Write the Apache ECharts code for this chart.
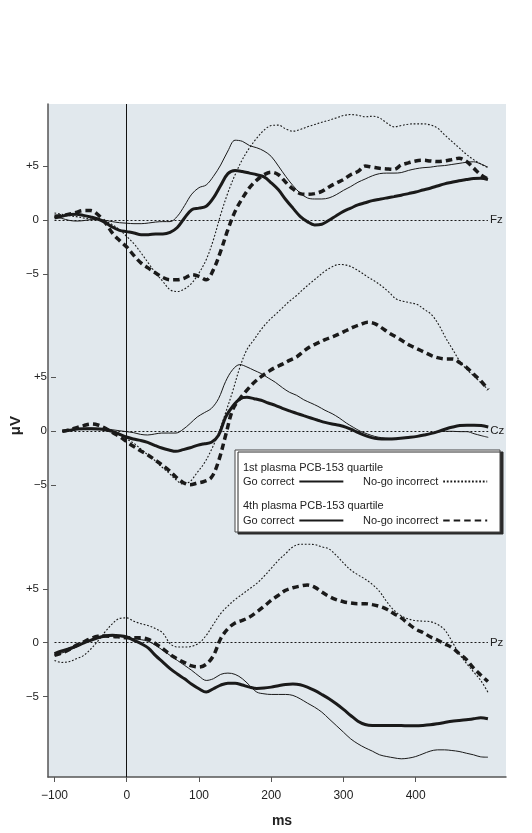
<!DOCTYPE html>
<html><head><meta charset="utf-8">
<script src="https://cdn.jsdelivr.net/npm/echarts@6/dist/echarts.min.js"></script>
<style>html,body{margin:0;padding:0;background:#fff}#c{width:532px;height:833px}</style>
</head><body><div id="c"></div>
<script>
// ---------- data (ms, µV) ----------
const times = [-100,-90,-80,-70,-60,-50,-40,-30,-20,-10,0,10,20,30,40,50,60,70,80,90,100,110,120,130,140,150,160,170,180,190,200,210,220,230,240,250,260,270,280,290,300,310,320,330,340,350,360,370,380,390,400,410,420,430,440,450,460,470,480,490,500];
const xTicks = [-100,0,100,200,300,400];
const yTicks = [-5,0,5];
const sites = ['Fz','Cz','Pz'];
const groupNames = ['Q1 Go correct','Q1 No-go incorrect','Q4 Go correct','Q4 No-go incorrect'];

const fzQ1Go = [0.28,0.15,-0.03,-0.1,-0.06,0.03,0.03,-0.03,-0.15,-0.25, -0.3,-0.34,-0.34,-0.28,-0.19,-0.15,-0.15,0.34,1.33,2.4, 3.0,3.25,4.05,5.1,6.4,7.4,7.3,6.9,6.7,6.4, 5.9,5.0,4.05,3.2,2.5,2.05,1.95,1.95,2.05,2.35, 2.75,3.1,3.5,3.8,4.1,4.3,4.35,4.35,4.4,4.6, 4.75,4.85,4.9,5.0,5.05,5.15,5.25,5.35,5.4,5.2, 4.9];
const fzQ1NoGo = [0.65,0.53,0.4,0.31,0.19,0.09,0.03,-0.12,-0.43,-0.9, -1.52,-2.2,-3.07,-4.0,-4.92,-5.7,-6.47,-6.63,-6.4,-5.85, -4.92,-3.68,-1.83,0.5,2.52,4.2,5.6,6.7,7.6,8.33, 8.76,8.8,8.45,8.24,8.39,8.64,8.85,9.07,9.26,9.47, 9.69,9.78,9.72,9.57,9.63,9.47,9.0,8.64,8.76,8.89, 8.92,8.92,8.82,8.54,7.9,7.3,6.7,6.1,5.6,5.2, 4.85];
const fzQ4Go = [0.19,0.34,0.5,0.53,0.43,0.28,0.09,-0.22,-0.65,-0.96, -1.08,-1.2,-1.36,-1.36,-1.3,-1.3,-1.15,-0.7,0.19,0.96, 1.1,1.27,2.05,3.2,4.3,4.6,4.5,4.35,4.2,4.0, 3.45,2.8,1.9,1.1,0.34,-0.15,-0.46,-0.4,-0.03,0.4, 0.8,1.1,1.4,1.6,1.8,1.92,2.05,2.17,2.3,2.45, 2.6,2.78,2.95,3.15,3.35,3.5,3.65,3.75,3.85,3.88, 3.75];
const fzQ4NoGo = [0.34,0.4,0.53,0.71,0.87,0.87,0.5,-0.22,-1.2,-1.9, -2.5,-3.3,-4.0,-4.46,-4.92,-5.33,-5.54,-5.54,-5.39,-5.08, -5.23,-5.54,-4.6,-2.9,-0.9,0.8,2.0,3.0,3.7,4.2, 4.43,4.2,3.5,2.88,2.45,2.38,2.45,2.66,3.06,3.43, 3.75,4.2,4.5,5.0,4.9,4.8,4.74,4.7,5.1,5.3, 5.48,5.54,5.48,5.42,5.48,5.6,5.73,5.45,4.83,4.2, 3.8];

const czQ1Go = [-0.03,0.03,0.12,0.22,0.28,0.25,0.22,0.12,0.03,-0.06, -0.15,-0.31,-0.37,-0.28,-0.19,-0.19,-0.19,0.15,0.7,1.3, 1.7,2.1,3.0,4.6,5.7,6.16,5.94,5.63,5.33,4.92, 4.52,4.02,3.59,3.31,2.9,2.6,2.29,1.92,1.61,1.21, 0.74,0.34,-0.03,-0.28,-0.5,-0.62,-0.68,-0.68,-0.62,-0.56, -0.5,-0.34,-0.19,-0.09,-0.03,-0.03,-0.06,-0.06,-0.25,-0.43, -0.59];
const czQ1NoGo = [-0.03,0.06,0.15,0.19,0.22,0.22,0.15,-0.03,-0.37,-0.74, -1.11,-1.64,-2.2,-2.72,-3.34,-3.9,-4.52,-4.92,-4.67,-3.84, -2.97,-1.73,-0.2,1.7,3.7,5.9,7.55,8.48,9.41,10.19, 10.8,11.42,12.04,12.57,13.19,13.75,14.3,14.83,15.23,15.45, 15.39,15.14,14.74,14.3,13.9,13.44,12.88,12.26,12.04,11.89, 11.73,11.27,10.8,9.88,8.64,7.55,6.47,5.7,5.08,4.46, 3.84];
const czQ4Go = [-0.03,0.06,0.19,0.22,0.22,0.19,0.12,-0.03,-0.28,-0.56, -0.74,-0.87,-1.05,-1.33,-1.58,-1.76,-1.89,-1.73,-1.55,-1.33, -1.18,-1.05,-0.4,1.3,2.3,2.97,3.13,3.0,2.85,2.6, 2.38,2.1,1.86,1.64,1.42,1.21,1.0,0.8,0.65,0.53, 0.34,0.06,-0.25,-0.5,-0.68,-0.74,-0.74,-0.71,-0.65,-0.59, -0.5,-0.37,-0.22,-0.03,0.19,0.37,0.5,0.53,0.53,0.5, 0.37];
const czQ4NoGo = [-0.03,0.12,0.31,0.5,0.65,0.56,0.28,-0.12,-0.5,-0.96, -1.42,-1.83,-2.2,-2.66,-3.13,-3.65,-4.27,-4.77,-4.98,-4.83, -4.67,-4.3,-2.8,-0.4,2.0,3.0,3.8,4.5,5.05,5.5, 5.9,6.2,6.55,6.87,7.4,7.86,8.17,8.48,8.73,9.0, 9.32,9.63,9.88,10.09,9.97,9.57,9.1,8.73,8.33,7.93, 7.62,7.31,7.0,6.78,6.69,6.69,6.32,5.85,5.23,4.61, 3.84];

const pzQ1Go = [-1.18,-0.96,-0.71,-0.4,-0.03,0.22,0.43,0.56,0.62,0.59, 0.46,0.37,0.28,0.12,-0.25,-0.71,-1.18,-1.64,-2.1,-2.57, -3.1,-3.5,-3.34,-2.94,-2.82,-2.94,-3.34,-3.96,-4.58,-4.74, -4.8,-4.8,-4.8,-4.89,-5.2,-5.6,-5.98,-6.44,-7.06,-7.68, -8.3,-8.92,-9.38,-9.75,-10.06,-10.4,-10.56,-10.68,-10.77,-10.71, -10.56,-10.31,-10.06,-9.94,-9.94,-10.0,-10.09,-10.25,-10.4,-10.59, -10.62];
const pzQ1NoGo = [-1.64,-1.83,-1.76,-1.49,-1.2,-0.6,0.15,1.0,1.75,2.25, 2.3,1.98,1.76,1.58,1.3,0.9,-0.09,-0.4,-0.4,-0.34, -0.03,0.68,1.7,2.7,3.4,4.0,4.5,5.0,5.5,6.15, 6.9,7.65,8.27,8.89,9.13,9.13,9.1,8.89,8.7,8.1, 7.4,6.75,6.3,5.9,5.4,4.75,3.8,3.0,2.5,2.2, 2.05,2.0,1.95,1.7,1.2,0.15,-1.0,-1.9,-2.7,-3.5, -4.6];
const pzQ4Go = [-1.02,-0.77,-0.56,-0.34,-0.03,0.22,0.46,0.62,0.68,0.65, 0.53,0.22,-0.09,-0.5,-1.2,-1.8,-2.4,-2.9,-3.35,-3.85, -4.27,-4.58,-4.27,-3.93,-3.75,-3.75,-3.93,-4.12,-4.24,-4.21, -4.12,-3.99,-3.87,-3.84,-3.9,-4.12,-4.43,-4.8,-5.2,-5.67, -6.19,-6.75,-7.28,-7.59,-7.68,-7.68,-7.68,-7.68,-7.68,-7.71, -7.71,-7.68,-7.62,-7.52,-7.4,-7.28,-7.22,-7.15,-7.06,-6.97, -7.06];
const pzQ4NoGo = [-1.18,-0.96,-0.65,-0.25,0.06,0.37,0.59,0.62,0.59,0.53, 0.46,0.46,0.46,0.3,-0.1,-0.56,-1.1,-1.5,-1.85,-2.15, -2.25,-2.0,-1.2,0.37,1.3,1.83,2.07,2.38,2.85,3.37, 3.93,4.4,4.86,5.1,5.25,5.35,5.15,4.71,4.3,4.0, 3.8,3.68,3.62,3.62,3.53,3.37,3.1,2.69,2.3,1.75, 1.25,0.95,0.55,0.25,-0.1,-0.45,-1.0,-1.55,-2.35,-3.0, -3.6];

const siteSeries = {
  Fz: [fzQ1Go, fzQ1NoGo, fzQ4Go, fzQ4NoGo],
  Cz: [czQ1Go, czQ1NoGo, czQ4Go, czQ4NoGo],
  Pz: [pzQ1Go, pzQ1NoGo, pzQ4Go, pzQ4NoGo]
};

// ---------- layout / style ----------
const FONT = "'Liberation Sans', Arial, sans-serif";
const INK = '#1a1a1a';
const PX_PER_UV = 10.78;
const GRID_LEFT = 48, GRID_RIGHT = 26, GRID_TOP = 104, GRID_BOTTOM = 51;
const X_MIN = -109, X_MAX = 525;
const panelLayout = [
  {base: 220,   min: -8,  max: 11},
  {base: 431,   min: -16, max: 17},
  {base: 642.7, min: -12, max: 11}
];
const lineStyles = [
  {width: 1,   type: 'solid'},
  {width: 1.1, type: [1.8, 1.8]},
  {width: 3,   type: 'solid'},
  {width: 3.5, type: [6.5, 4]}
];
const legendSlots = [
  {left: 243, top: 476}, {left: 363, top: 476},
  {left: 243, top: 515}, {left: 363, top: 515}
];
const minus = v => (v < 0 ? '\u2212' + Math.abs(v) : String(v));

const grids = [{left: GRID_LEFT, right: GRID_RIGHT, top: GRID_TOP, bottom: GRID_BOTTOM,
  show: true, backgroundColor: '#e1e8ed', borderWidth: 0}];
const xAxes = [{
  gridIndex: 0, type: 'value', min: X_MIN, max: X_MAX,
  axisLine: {show: true, onZero: false, lineStyle: {color: '#555', width: 1.5}},
  axisTick: {show: true, customValues: xTicks, length: 5, lineStyle: {color: '#555'}},
  axisLabel: {customValues: xTicks, formatter: minus, margin: 13, fontSize: 12, color: '#222', fontFamily: FONT},
  splitLine: {show: false},
  name: 'ms', nameLocation: 'middle', nameGap: 37,
  nameTextStyle: {fontWeight: 'bold', fontSize: 14, color: '#222', fontFamily: FONT, padding: [0, 0, 0, 10]}
}];
const yAxes = [{
  gridIndex: 0, type: 'value', min: 0, max: 1,
  axisLine: {show: true, onZero: false, lineStyle: {color: '#555', width: 1.5}},
  axisTick: {show: false}, axisLabel: {show: false}, splitLine: {show: false}
}];
const series = [{
  type: 'line', xAxisIndex: 0, yAxisIndex: 0, data: [], silent: true,
  markLine: {silent: true, symbol: ['none', 'none'], animation: false,
    lineStyle: {color: '#111', width: 1, type: 'solid'}, label: {show: false},
    data: [{xAxis: 0}]}
}];

sites.forEach((site, i) => {
  const p = panelLayout[i];
  const gi = i + 1;
  grids.push({left: GRID_LEFT, right: GRID_RIGHT,
    top: p.base - p.max * PX_PER_UV, height: (p.max - p.min) * PX_PER_UV});
  xAxes.push({gridIndex: gi, type: 'value', min: X_MIN, max: X_MAX, show: false});
  const yA = {
    gridIndex: gi, type: 'value', min: p.min, max: p.max,
    axisLine: {show: false, onZero: false},
    axisTick: {show: true, customValues: yTicks, length: 5, lineStyle: {color: '#555'}},
    axisLabel: {customValues: yTicks, formatter: v => (v > 0 ? '+' + v : minus(v)),
      margin: 9, fontSize: 11.5, color: '#222', fontFamily: FONT},
    splitLine: {show: false}
  };
  if (site === 'Cz') {
    yA.name = 'μV'; yA.nameLocation = 'middle'; yA.nameGap = 26; yA.nameRotate = 90;
    yA.nameTextStyle = {fontWeight: 'bold', fontSize: 15, color: '#222', fontFamily: FONT};
  }
  yAxes.push(yA);
  siteSeries[site].forEach((vals, k) => {
    const s = {
      name: groupNames[k], type: 'line', xAxisIndex: gi, yAxisIndex: gi,
      data: times.map((t, j) => [t, vals[j]]),
      showSymbol: false, symbol: 'none', smooth: 0.35,
      lineStyle: {color: INK, width: lineStyles[k].width, type: lineStyles[k].type},
      itemStyle: {color: INK}, z: 3 + k
    };
    if (k === 0) {
      s.markLine = {silent: true, symbol: ['none', 'none'], animation: false,
        lineStyle: {color: INK, width: 1, type: [2, 2]},
        label: {show: true, position: 'end', distance: 2, formatter: site,
          fontSize: 11.5, color: '#222', fontFamily: FONT},
        data: [[{coord: [times[0], 0]}, {coord: [times[times.length - 1], 0]}]]};
    }
    series.push(s);
  });
});

const legends = groupNames.map((n, k) => ({
  left: legendSlots[k].left, top: legendSlots[k].top,
  orient: 'horizontal', align: 'right', itemWidth: 44, itemHeight: 12,
  selectedMode: false, z: 20, padding: 0,
  textStyle: {fontSize: 11, color: '#222', fontFamily: FONT},
  itemStyle: {opacity: 0},
  formatter: name => name.slice(3),
  data: [n]
}));

const option = {
  animation: false,
  backgroundColor: '#ffffff',
  grid: grids, xAxis: xAxes, yAxis: yAxes, series: series,
  legend: legends,
  graphic: [
    {type: 'rect', z: 10, shape: {x: 235, y: 450, width: 265, height: 82},
      style: {fill: '#ffffff', stroke: '#444', lineWidth: 1, shadowColor: '#2a2a2a', shadowOffsetX: 3, shadowOffsetY: 2, shadowBlur: 0}},
    {type: 'text', z: 11, x: 243, y: 468,
      style: {text: '1st plasma PCB-153 quartile', fill: '#222', font: '11px ' + FONT, verticalAlign: 'middle'}},
    {type: 'text', z: 11, x: 243, y: 506,
      style: {text: '4th plasma PCB-153 quartile', fill: '#222', font: '11px ' + FONT, verticalAlign: 'middle'}}
  ]
};

const chart = echarts.init(document.getElementById('c'), null, {renderer: 'canvas'});
chart.setOption(option);
</script>
</body></html>
